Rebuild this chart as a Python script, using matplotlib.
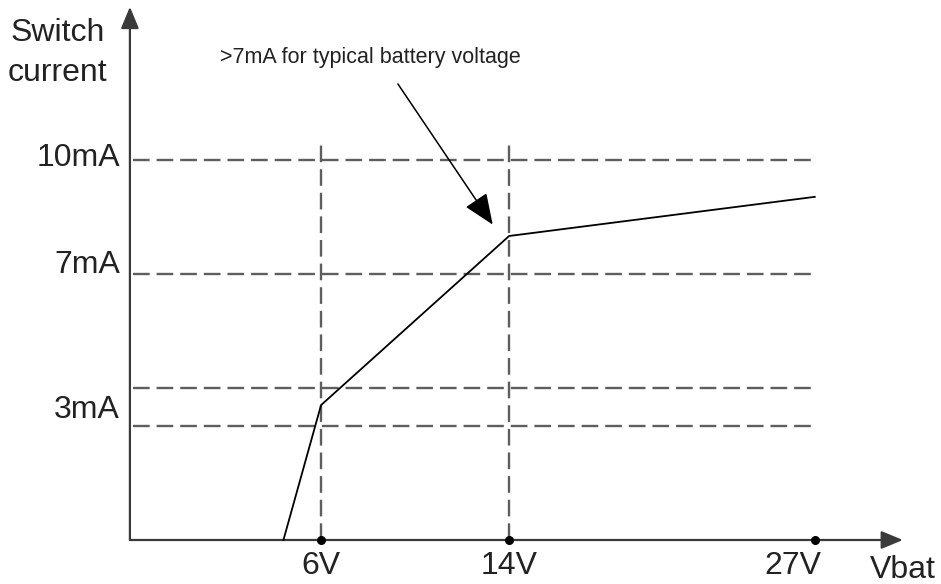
import matplotlib
matplotlib.use("Agg")
import matplotlib.pyplot as plt
from matplotlib.patches import FancyArrowPatch

plt.rcParams['font.family'] = ['Liberation Sans', 'DejaVu Sans']
plt.rcParams['lines.scale_dashes'] = False

# ---- data (volts, mA) ----
curve_v = [4.4, 6.0, 14.0, 27.0]
curve_i = [0.0, 3.55, 8.0, 9.03]
x_ticks = [6, 14, 27]
x_tick_labels = ["6V", "14V", "27V"]
h_levels = [10, 7, 4, 3]
y_label_vals = [10.05, 7.24, 3.42]
y_labels = ["10mA", "7mA", "3mA"]
annot_text = ">7mA for typical battery voltage"
annot_tip = (13.3, 8.3)
annot_tail = (9.27, 12.0)

# ---- figure ----
fig = plt.figure(figsize=(9.41, 5.84), dpi=100)
ax = fig.add_axes([0, 0, 1, 1])
ax.set_xlim(-7.656, 32.37)
ax.set_ylim(-1.158, 14.21)
ax.axis('off')

x0, y0 = -2.13, 0.0
x_end = 27.0
dash_col = '#5e5e5e'
dash = (0, (12, 5))

# horizontal dashed guide lines
for lv in h_levels:
    ax.plot([x0 + 0.12, x_end], [lv, lv], color=dash_col, lw=1.7, ls=dash,
            solid_capstyle='butt', zorder=1)
# vertical dashed guide lines
for xv in x_ticks[:2]:
    ax.plot([xv, xv], [y0, 10.5], color=dash_col, lw=1.7, ls=dash, zorder=1)

# curve
ax.plot(curve_v, curve_i, color='black', lw=1.3, zorder=3)

# axes with arrows
astyle = '-|>,head_length=0.6,head_width=0.25'
ax.add_patch(FancyArrowPatch((x0, y0), (30.75, y0), arrowstyle=astyle,
                             mutation_scale=22, color='#3a3a3a', lw=1.6,
                             shrinkA=0, shrinkB=0, zorder=2))
ax.add_patch(FancyArrowPatch((x0, y0), (x0, 14.03), arrowstyle=astyle,
                             mutation_scale=22, color='#3a3a3a', lw=1.6,
                             shrinkA=0, shrinkB=0, zorder=2))

# tick dots
ax.scatter(x_ticks, [y0] * len(x_ticks), s=30, color='black', zorder=4)

fs = 23
# x tick labels
label_x = [6.0, 14.0, 26.05]
for lx, t in zip(label_x, x_tick_labels):
    ax.text(lx, -0.68, t, ha='center', va='center', fontsize=fs, color='#222222')
ax.text(29.35, -0.79, "Vbat", ha='left', va='center', fontsize=fs, color='#222222')

# y labels
for yv, t in zip(y_label_vals, y_labels):
    ax.text(-2.55, yv, t, ha='right', va='center', fontsize=fs, color='#222222')
ax.text(-5.2, 13.34, "Switch", ha='center', va='center', fontsize=fs, color='#222222')
ax.text(-5.2, 12.3, "current", ha='center', va='center', fontsize=fs, color='#222222')

# annotation
ax.text(8.1, 12.71, annot_text, ha='center', va='center', fontsize=15.5, color='#222222')
ax.add_patch(FancyArrowPatch(annot_tail, annot_tip,
                             arrowstyle='-|>,head_length=1.2,head_width=0.5',
                             mutation_scale=16, color='black', lw=1.1,
                             shrinkA=0, shrinkB=0, zorder=3))

fig.savefig("out.png", dpi=100)
